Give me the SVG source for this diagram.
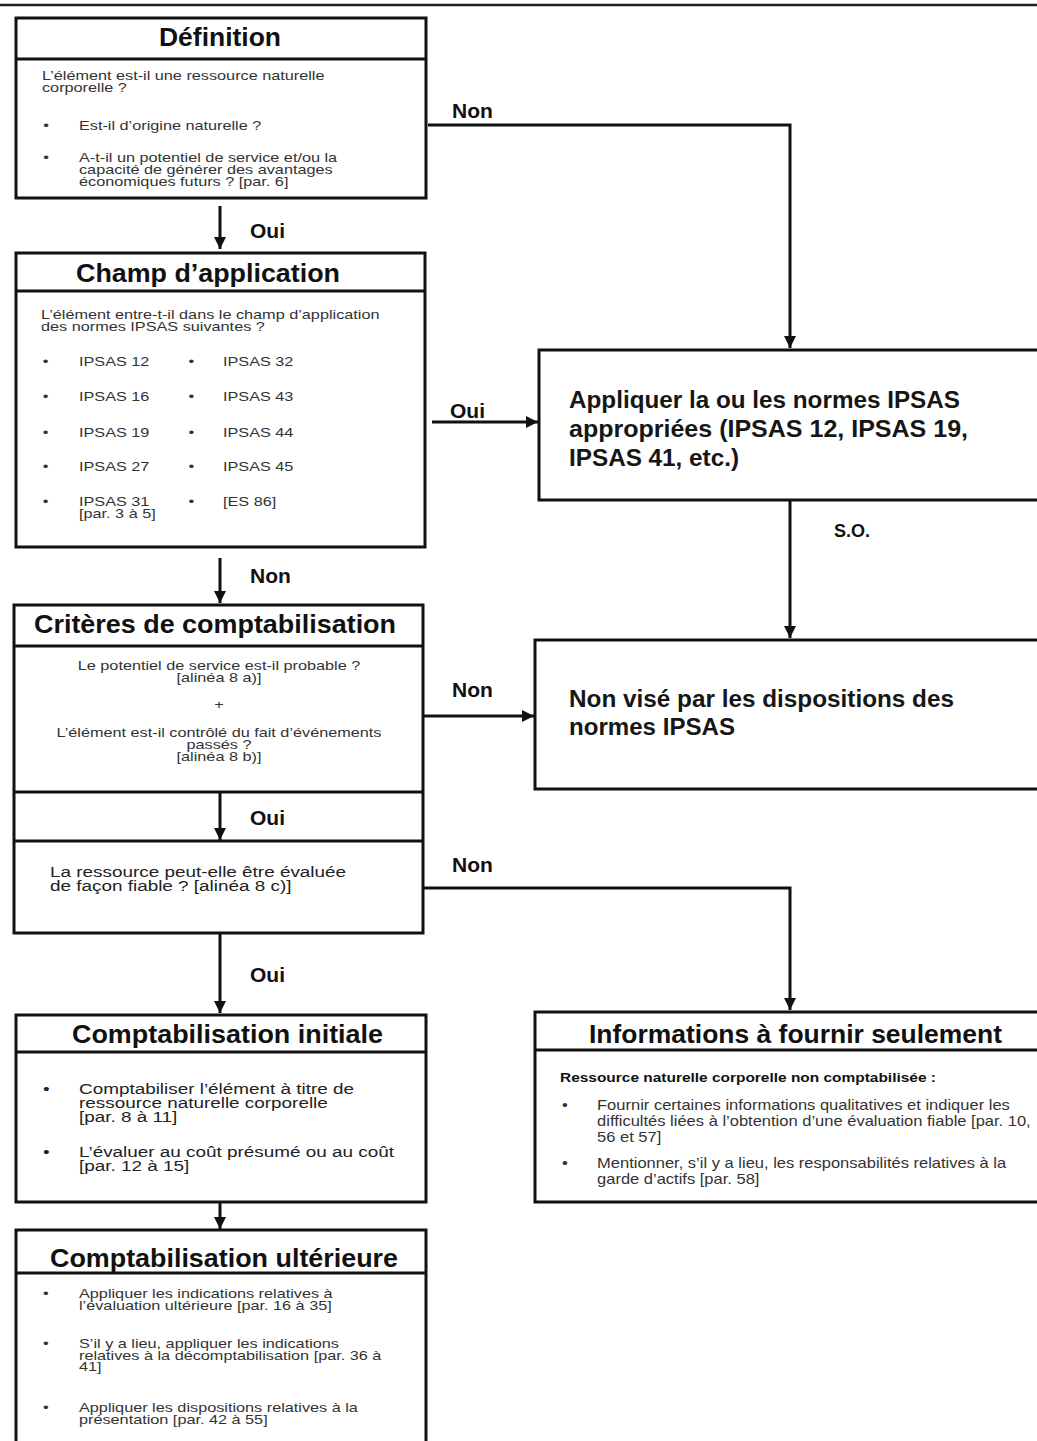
<svg xmlns="http://www.w3.org/2000/svg" width="1037" height="1441" viewBox="0 0 1037 1441">
<style>
.box{fill:#fff;stroke:#111;stroke-width:3}
.div{stroke:#111;stroke-width:3;fill:none}
.con{stroke:#111;stroke-width:3;fill:none}
.ttl{font-family:"Liberation Sans",Arial,sans-serif;font-weight:bold;font-size:25px;fill:#111}
.lbl{font-family:"Liberation Sans",Arial,sans-serif;font-weight:bold;font-size:21px;fill:#111}
.big{font-family:"Liberation Sans",Arial,sans-serif;font-weight:bold;font-size:23px;fill:#161616}
.sm{font-family:"Liberation Sans",Arial,sans-serif;font-size:13px;fill:#333}
.md{font-family:"Liberation Sans",Arial,sans-serif;font-size:15px;fill:#222}
.inf{font-family:"Liberation Sans",Arial,sans-serif;font-size:14px;fill:#333}
.infb{font-family:"Liberation Sans",Arial,sans-serif;font-size:13px;font-weight:bold;fill:#111}
</style>
<defs>
<marker id="ah" markerUnits="userSpaceOnUse" markerWidth="12" markerHeight="12" refX="10" refY="5" orient="auto" viewBox="0 0 10 10">
<path d="M0,0 L10,5 L0,10 z" fill="#111"/>
</marker>
</defs>
<rect x="0" y="0" width="1037" height="1441" fill="#fff"/>
<line x1="0" y1="5" x2="1037" y2="5" stroke="#222" stroke-width="2.5"/>

<g id="definition">
<rect class="box" x="16" y="18" width="410" height="180"/>
<line class="div" x1="16" y1="59" x2="426" y2="59"/>
<text class="ttl" x="159" y="46" textLength="122" lengthAdjust="spacingAndGlyphs">Définition</text>
<g transform="translate(42,0) scale(1.25,1)">
<text class="sm" x="0" y="80">L’élément est-il une ressource naturelle</text>
<text class="sm" x="0" y="92">corporelle ?</text>
<text class="sm" x="1" y="130">•</text>
<text class="sm" x="29.6" y="130">Est-il d’origine naturelle ?</text>
<text class="sm" x="1" y="162">•</text>
<text class="sm" x="29.6" y="162">A-t-il un potentiel de service et/ou la</text>
<text class="sm" x="29.6" y="174">capacité de générer des avantages</text>
<text class="sm" x="29.6" y="186">économiques futurs ? [par. 6]</text>
</g>
</g>

<g id="champ">
<rect class="box" x="16" y="253" width="409" height="294"/>
<line class="div" x1="16" y1="291" x2="425" y2="291"/>
<text class="ttl" x="76" y="282" textLength="264" lengthAdjust="spacingAndGlyphs">Champ d’application</text>
<g transform="translate(41,0) scale(1.25,1)">
<text class="sm" x="0" y="319">L’élément entre-t-il dans le champ d’application</text>
<text class="sm" x="0" y="331">des normes IPSAS suivantes ?</text>
<text class="sm" x="1.5" y="366">•</text><text class="sm" x="30.4" y="366">IPSAS 12</text>
<text class="sm" x="1.5" y="401">•</text><text class="sm" x="30.4" y="401">IPSAS 16</text>
<text class="sm" x="1.5" y="437">•</text><text class="sm" x="30.4" y="437">IPSAS 19</text>
<text class="sm" x="1.5" y="471">•</text><text class="sm" x="30.4" y="471">IPSAS 27</text>
<text class="sm" x="1.5" y="506">•</text><text class="sm" x="30.4" y="506">IPSAS 31</text>
<text class="sm" x="30.4" y="518">[par. 3 à 5]</text>
<text class="sm" x="118" y="366">•</text><text class="sm" x="145.6" y="366">IPSAS 32</text>
<text class="sm" x="118" y="401">•</text><text class="sm" x="145.6" y="401">IPSAS 43</text>
<text class="sm" x="118" y="437">•</text><text class="sm" x="145.6" y="437">IPSAS 44</text>
<text class="sm" x="118" y="471">•</text><text class="sm" x="145.6" y="471">IPSAS 45</text>
<text class="sm" x="118" y="506">•</text><text class="sm" x="145.6" y="506">[ES 86]</text>
</g>
</g>

<g id="criteres">
<rect class="box" x="14" y="605" width="409" height="328"/>
<line class="div" x1="14" y1="646" x2="423" y2="646"/>
<line class="div" x1="14" y1="792" x2="423" y2="792"/>
<line class="div" x1="14" y1="841" x2="423" y2="841"/>
<text class="ttl" x="34" y="633" textLength="362" lengthAdjust="spacingAndGlyphs">Critères de comptabilisation</text>
<g transform="translate(219,0) scale(1.25,1)" text-anchor="middle">
<text class="sm" x="0" y="670">Le potentiel de service est-il probable ?</text>
<text class="sm" x="0" y="682">[alinéa 8 a)]</text>
<text class="sm" x="0" y="709">+</text>
<text class="sm" x="0" y="737">L’élément est-il contrôlé du fait d’événements</text>
<text class="sm" x="0" y="749">passés ?</text>
<text class="sm" x="0" y="761">[alinéa 8 b)]</text>
</g>
<g transform="translate(50,0) scale(1.26,1)">
<text class="md" x="0" y="877">La ressource peut-elle être évaluée</text>
<text class="md" x="0" y="891">de façon fiable ? [alinéa 8 c)]</text>
</g>
</g>

<g id="appliquer">
<rect class="box" x="539" y="350" width="520" height="150"/>
<text class="big" x="569" y="408" textLength="391" lengthAdjust="spacingAndGlyphs">Appliquer la ou les normes IPSAS</text>
<text class="big" x="569" y="437" textLength="399" lengthAdjust="spacingAndGlyphs">appropriées (IPSAS 12, IPSAS 19,</text>
<text class="big" x="569" y="466" textLength="170" lengthAdjust="spacingAndGlyphs">IPSAS 41, etc.)</text>
</g>

<g id="nonvise">
<rect class="box" x="535" y="640" width="520" height="149"/>
<text class="big" x="569" y="707" textLength="385" lengthAdjust="spacingAndGlyphs">Non visé par les dispositions des</text>
<text class="big" x="569" y="735" textLength="166" lengthAdjust="spacingAndGlyphs">normes IPSAS</text>
</g>

<g id="initiale">
<rect class="box" x="16" y="1015" width="410" height="187"/>
<line class="div" x1="16" y1="1052" x2="426" y2="1052"/>
<text class="ttl" x="72" y="1043" textLength="311" lengthAdjust="spacingAndGlyphs">Comptabilisation initiale</text>
<g transform="translate(43,0) scale(1.26,1)">
<text class="md" x="0" y="1094">•</text>
<text class="md" x="28.6" y="1094">Comptabiliser l’élément à titre de</text>
<text class="md" x="28.6" y="1108">ressource naturelle corporelle</text>
<text class="md" x="28.6" y="1122">[par. 8 à 11]</text>
<text class="md" x="0" y="1157">•</text>
<text class="md" x="28.6" y="1157">L’évaluer au coût présumé ou au coût</text>
<text class="md" x="28.6" y="1171">[par. 12 à 15]</text>
</g>
</g>

<g id="ulterieure">
<rect class="box" x="16" y="1230" width="410" height="240"/>
<line class="div" x1="16" y1="1273" x2="426" y2="1273"/>
<text class="ttl" x="50" y="1267" textLength="348" lengthAdjust="spacingAndGlyphs">Comptabilisation ultérieure</text>
<g transform="translate(43,0) scale(1.25,1)">
<text class="sm" x="0" y="1298">•</text>
<text class="sm" x="28.8" y="1298">Appliquer les indications relatives à</text>
<text class="sm" x="28.8" y="1310">l’évaluation ultérieure [par. 16 à 35]</text>
<text class="sm" x="0" y="1348">•</text>
<text class="sm" x="28.8" y="1348">S’il y a lieu, appliquer les indications</text>
<text class="sm" x="28.8" y="1360">relatives à la décomptabilisation [par. 36 à</text>
<text class="sm" x="28.8" y="1371">41]</text>
<text class="sm" x="0" y="1412">•</text>
<text class="sm" x="28.8" y="1412">Appliquer les dispositions relatives à la</text>
<text class="sm" x="28.8" y="1424">présentation [par. 42 à 55]</text>
</g>
</g>

<g id="informations">
<rect class="box" x="535" y="1012" width="520" height="190"/>
<line class="div" x1="535" y1="1050" x2="1040" y2="1050"/>
<text class="ttl" x="589" y="1043" textLength="413" lengthAdjust="spacingAndGlyphs">Informations à fournir seulement</text>
<g transform="translate(560,0) scale(1.19,1)">
<text class="infb" x="0" y="1082">Ressource naturelle corporelle non comptabilisée :</text>
</g>
<g transform="translate(562,0) scale(1.18,1)">
<text class="inf" x="0" y="1110">•</text>
<text class="inf" x="29.7" y="1110">Fournir certaines informations qualitatives et indiquer les</text>
<text class="inf" x="29.7" y="1126">difficultés liées à l’obtention d’une évaluation fiable [par. 10,</text>
<text class="inf" x="29.7" y="1142">56 et 57]</text>
<text class="inf" x="0" y="1168">•</text>
<text class="inf" x="29.7" y="1168">Mentionner, s’il y a lieu, les responsabilités relatives à la</text>
<text class="inf" x="29.7" y="1184">garde d’actifs [par. 58]</text>
</g>
</g>

<g id="connectors">
<path class="con" d="M428,125 H790 V348" marker-end="url(#ah)"/>
<path class="con" d="M220,206 V249" marker-end="url(#ah)"/>
<path class="con" d="M432,422 H538" marker-end="url(#ah)"/>
<path class="con" d="M220,558 V603" marker-end="url(#ah)"/>
<path class="con" d="M424,716 H534" marker-end="url(#ah)"/>
<path class="con" d="M220,793 V840" marker-end="url(#ah)"/>
<path class="con" d="M424,888 H790 V1010" marker-end="url(#ah)"/>
<path class="con" d="M790,500 V638" marker-end="url(#ah)"/>
<path class="con" d="M220,933 V1013" marker-end="url(#ah)"/>
<path class="con" d="M220,1202 V1229" marker-end="url(#ah)"/>
<text class="lbl" x="452" y="118">Non</text>
<text class="lbl" x="250" y="238">Oui</text>
<text class="lbl" x="450" y="418">Oui</text>
<text class="lbl" x="250" y="583">Non</text>
<text class="lbl" x="452" y="697">Non</text>
<text class="lbl" x="250" y="825">Oui</text>
<text class="lbl" x="452" y="872">Non</text>
<text class="lbl" x="250" y="982">Oui</text>
<text class="lbl" x="834" y="537" style="font-size:18px">S.O.</text>
</g>
</svg>
